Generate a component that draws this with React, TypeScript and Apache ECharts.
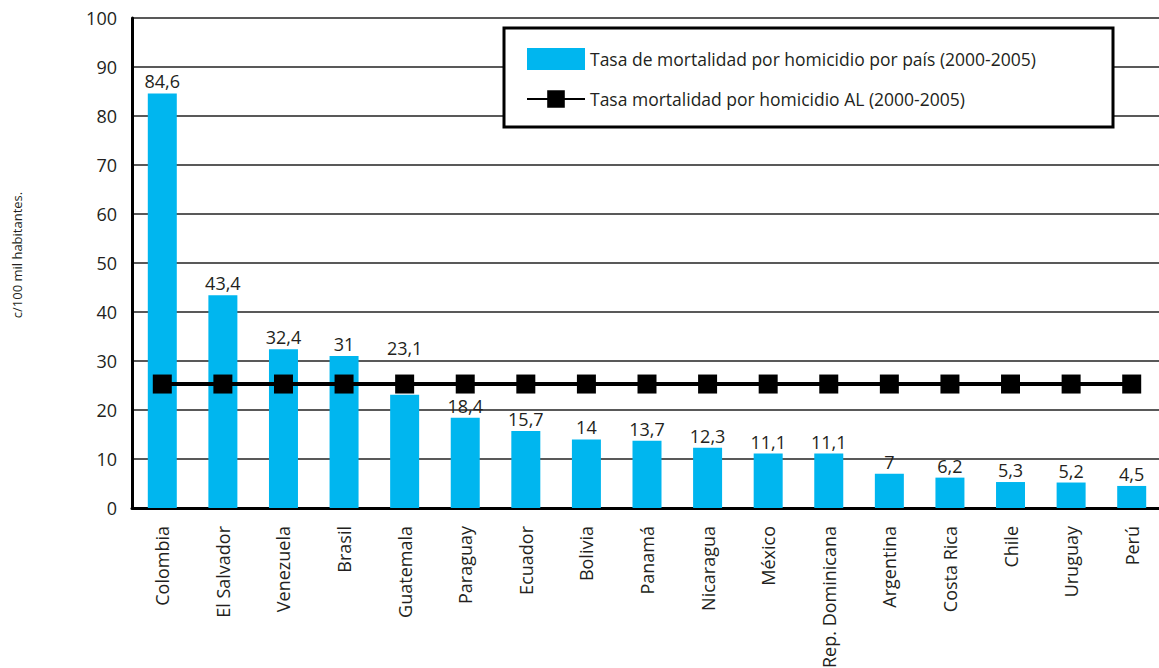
import React, { useEffect, useRef } from "react";
import * as echarts from "echarts";

const categories = [
  "Colombia", "El Salvador", "Venezuela", "Brasil", "Guatemala", "Paraguay", "Ecuador",
  "Bolivia", "Panamá", "Nicaragua", "México", "Rep. Dominicana", "Argentina",
  "Costa Rica", "Chile", "Uruguay", "Perú",
];
const countryRates = [84.6, 43.4, 32.4, 31, 23.1, 18.4, 15.7, 14, 13.7, 12.3, 11.1, 11.1, 7, 6.2, 5.3, 5.2, 4.5];
const alRates = [25.3, 25.3, 25.3, 25.3, 25.3, 25.3, 25.3, 25.3, 25.3, 25.3, 25.3, 25.3, 25.3, 25.3, 25.3, 25.3, 25.3];
const barName = "Tasa de mortalidad por homicidio por país (2000-2005)";
const lineName = "Tasa mortalidad por homicidio AL (2000-2005)";
const yAxisName = "c/100 mil habitantes.";

const FONT = "'Open Sans', 'Noto Sans', sans-serif";
const TEXT = "#231f20";

export default function App() {
  const ref = useRef<HTMLDivElement>(null);
  useEffect(() => {
    document.body.style.margin = "0";
    const chart = echarts.init(ref.current!, null, { renderer: "svg" });
    chart.setOption({
      animation: false,
      backgroundColor: "#ffffff",
      textStyle: { fontFamily: FONT, color: TEXT },
      grid: { left: 132, top: 18, width: 1030, height: 490, outerBoundsMode: "none", containLabel: false },
      xAxis: {
        type: "category",
        data: categories,
        axisLine: { lineStyle: { color: "#000", width: 3 } },
        axisTick: { show: false },
        axisLabel: { rotate: 90, fontSize: 18, color: TEXT, margin: 18, fontFamily: FONT },
      },
      yAxis: {
        type: "value",
        min: 0,
        max: 100,
        interval: 10,
        axisLine: { show: true, lineStyle: { color: "#000", width: 3 } },
        axisTick: { show: false },
        axisLabel: { fontSize: 18, color: TEXT, margin: 15, fontFamily: FONT },
        splitLine: { lineStyle: { color: "#222", width: 1.5 } },
      },
      legend: {
        orient: "vertical",
        left: 521,
        top: 43,
        itemGap: 20,
        itemWidth: 58,
        itemHeight: 22,
        z: 5,
        textStyle: { fontSize: 17.5, color: TEXT, fontFamily: FONT },
        data: [
          { name: barName, icon: "rect" },
          { name: lineName },
        ],
      },
      graphic: [
        {
          type: "rect",
          z: 3,
          shape: { x: 504, y: 28, width: 609, height: 99 },
          style: { fill: "#fff", stroke: "#000", lineWidth: 3 },
        },
        {
          type: "text",
          x: 17,
          y: 255,
          rotation: Math.PI / 2,
          style: {
            text: yAxisName,
            fontSize: 13,
            fontFamily: FONT,
            fill: TEXT,
            align: "center",
            verticalAlign: "middle",
          },
        },
      ],
      series: [
        {
          name: barName,
          type: "bar",
          data: countryRates.map((v, i) => (i === 4 ? { value: v, label: { distance: 38 } } : v)),
          barWidth: 29,
          itemStyle: { color: "#00b6ef" },
          label: {
            show: true,
            position: "top",
            distance: 3,
            fontSize: 18,
            color: TEXT,
            fontFamily: FONT,
            formatter: (p: any) => String(p.value).replace(".", ","),
          },
        },
        {
          name: lineName,
          type: "line",
          data: alRates,
          symbol: "rect",
          symbolSize: 19,
          itemStyle: { color: "#000" },
          lineStyle: { color: "#000", width: 4 },
          z: 4,
        },
      ],
    });
    return () => chart.dispose();
  }, []);
  return <div ref={ref} style={{ width: 1159, height: 668 }} />;
}
